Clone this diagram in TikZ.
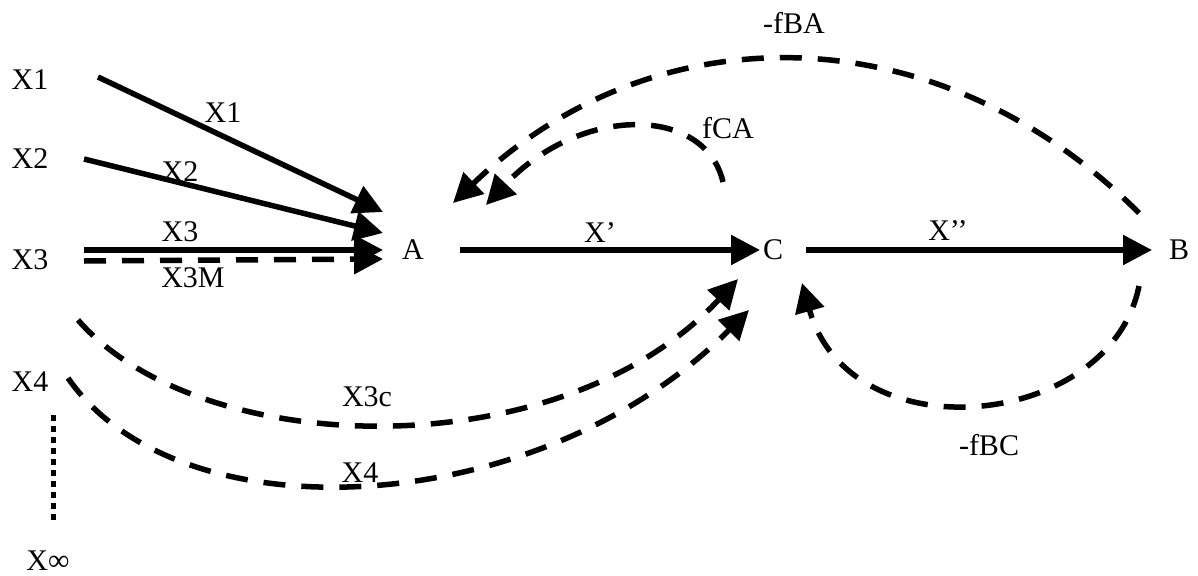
\documentclass[tikz,border=0pt]{standalone}
\usepackage{fontspec}
\setmainfont{Liberation Serif}
\usetikzlibrary{arrows.meta}
\begin{document}
\begin{tikzpicture}[x=1pt,y=-1pt,
  lbl/.style={inner sep=0pt,font=\fontsize{30}{34}\selectfont},
  conn/.style={line width=5.5pt,-{Triangle[length=29pt,width=29pt]}},
  dconn/.style={conn,dash pattern=on 22pt off 16pt},
  dotline/.style={line width=5pt,dash pattern=on 5.5pt off 5.5pt}]
\useasboundingbox (0,0) rectangle (1198,575);
% main nodes
\node[lbl] (x1) at (30,80) {X1};
\node[lbl] (x2) at (30,159) {X2};
\node[lbl] (x3) at (30,260) {X3};
\node[lbl] (x4) at (30,382) {X4};
\node[lbl] (xinf) at (48,561) {X∞};
\node[lbl] (A) at (413,250) {A};
\node[lbl] (C) at (773,250) {C};
\node[lbl] (B) at (1179,250) {B};
% endpoints
\coordinate (x1s) at (98,77);
\coordinate (x2s) at (84,159);
\coordinate (x3s) at (84,250);
\coordinate (x3ms) at (84,261);
\coordinate (x3cs) at (78,320);
\coordinate (x4s) at (68,378);
\coordinate (a1) at (383,212);
\coordinate (a2) at (383,233);
\coordinate (a3) at (383,250);
\coordinate (a3m) at (383,259);
\coordinate (aout) at (460,250);
\coordinate (cin) at (760,250);
\coordinate (cout) at (806,250);
\coordinate (bin) at (1152,250);
\coordinate (bout1) at (1139,213);
\coordinate (bout2) at (1139,286);
\coordinate (ain1) at (453,203);
\coordinate (ain2) at (486,205);
\coordinate (cout2) at (723,182);
\coordinate (cin1) at (738,279);
\coordinate (cin2) at (749,310);
\coordinate (cin3) at (802,283);
\coordinate (dots) at (53,415);
\coordinate (dote) at (53,520);
% straight connectors
\draw[conn] (x1s) -- (a1);
\draw[conn] (x2s) -- (a2);
\draw[conn] (x3s) -- (a3);
\draw[dconn] (x3ms) -- (a3m);
\draw[conn] (aout) -- (cin);
\draw[conn] (cout) -- (bin);
% curved dashed connectors
\draw[dconn] (bout1) .. controls (937,11) and (653,11) .. (ain1);
\draw[dconn] (cout2) .. controls (705,105) and (580,105) .. (ain2);
\draw[dconn] (x3cs) .. controls (200,460) and (560,470) .. (cin1);
\draw[dconn] (x4s) .. controls (180,540) and (540,520) .. (cin2);
\draw[dconn] (bout2) .. controls (1110,430) and (850,455) .. (cin3);
\draw[dotline] (dots) -- (dote);
% edge labels
\node[lbl] (l1) at (223,113) {X1};
\node[lbl] (l2) at (180,172) {X2};
\node[lbl] (l3) at (180,232) {X3};
\node[lbl] (l3m) at (193,278) {X3M};
\node[lbl] (lp) at (600,233) {X’};
\node[lbl] (lpp) at (948,231) {X’’};
\node[lbl] (lba) at (794,23) {-fBA};
\node[lbl] (lca) at (728,128) {fCA};
\node[lbl] (l3c) at (367,397) {X3c};
\node[lbl] (l4) at (360,473) {X4};
\node[lbl] (lbc) at (989,445) {-fBC};
\end{tikzpicture}
\end{document}
